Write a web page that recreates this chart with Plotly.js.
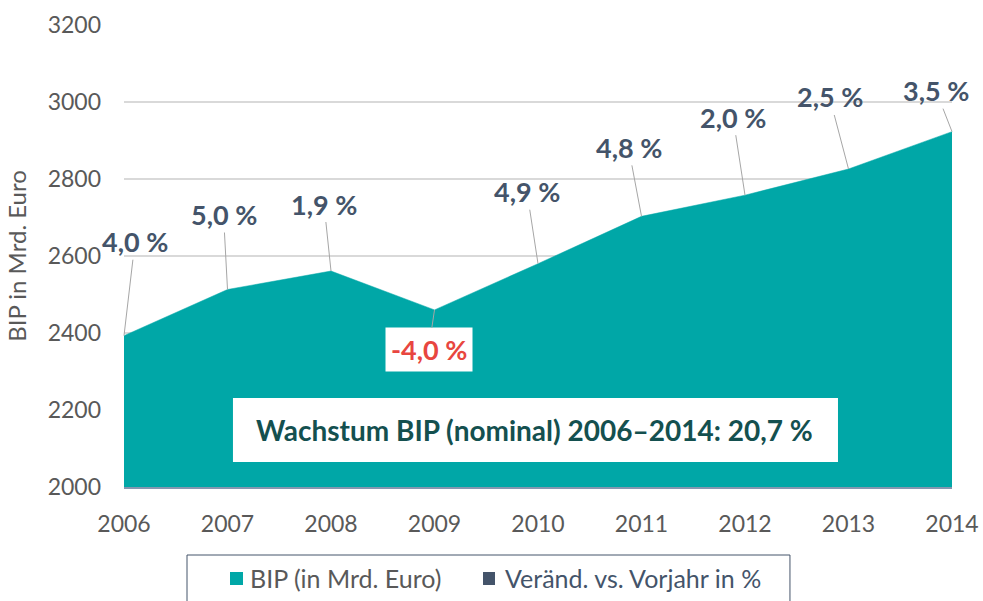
<!DOCTYPE html>
<html>
<head>
<meta charset="utf-8">
<script src="https://cdn.plot.ly/plotly-3.0.1.min.js"></script>
<style>html,body{margin:0;padding:0;background:#fff;}#chart{width:983px;height:601px;}</style>
</head>
<body>
<div id="chart"></div>
<script>
// ---- data ----
var years = [2006, 2007, 2008, 2009, 2010, 2011, 2012, 2013, 2014];
var bip = [2393, 2513, 2561, 2460, 2580, 2703, 2758, 2826, 2923];
var changePct = [4.0, 5.0, 1.9, -4.0, 4.9, 4.8, 2.0, 2.5, 3.5];
var yTicks = [2000, 2200, 2400, 2600, 2800, 3000, 3200];
var seriesNames = ['BIP (in Mrd. Euro)', 'Veränd. vs. Vorjahr in %'];
var totalGrowthText = 'Wachstum BIP (nominal) 2006–2014: 20,7 %';

// ---- styling / layout helpers ----
var FONT = 'Lato, "Open Sans", sans-serif';
var TEAL = '#00a7a7';
var SLATE = '#44546a';
var RED = '#e8463f';
var GREY = '#595959';
// label offsets in px (layout, not data)
var labelOffsets = [[11,-94],[-4,-75],[-7,-67],[-6,40],[-11,-72],[-13,-69],[-12,-78],[-19,-72],[-16,-41]];

function fmtPct(v){ return v.toFixed(1).replace('.', ',') + ' %'; }

var traces = [{
  type: 'scatter',
  x: years,
  y: bip,
  mode: 'lines',
  line: {color: TEAL, width: 0.5},
  fill: 'tozeroy',
  fillcolor: TEAL,
  name: seriesNames[0],
  showlegend: false,
  hoverinfo: 'x+y'
}];

var annotations = years.map(function(yr, i){
  var neg = changePct[i] < 0;
  var a = {
    x: yr, y: bip[i], xref: 'x', yref: 'y',
    text: '<b>' + fmtPct(changePct[i]) + '</b>',
    showarrow: true, arrowhead: 0, arrowwidth: 1, arrowcolor: '#a6a6a6',
    ax: labelOffsets[i][0], ay: labelOffsets[i][1],
    standoff: 0, startstandoff: 0,
    font: {family: FONT, size: 27, color: neg ? RED : SLATE}
  };
  if (neg) { a.bgcolor = '#ffffff'; a.borderpad = 5; }
  return a;
});

// total growth text
annotations.push({
  xref: 'paper', yref: 'paper', x: 0.4952, y: 0.1234,
  xanchor: 'center', yanchor: 'middle', showarrow: false,
  text: '<b>' + totalGrowthText + '</b>',
  font: {family: FONT, size: 28, color: '#14504f'}
});
// legend texts
annotations.push({
  xref: 'paper', yref: 'paper', x: 0.1498, y: -0.197, xanchor: 'left', yanchor: 'middle',
  showarrow: false, text: seriesNames[0], font: {family: FONT, size: 25, color: GREY}
});
annotations.push({
  xref: 'paper', yref: 'paper', x: 0.4577, y: -0.197, xanchor: 'left', yanchor: 'middle',
  showarrow: false, text: seriesNames[1], font: {family: FONT, size: 25, color: SLATE}
});

var shapes = [
  // white box for total growth
  {type: 'rect', xref: 'paper', yref: 'paper', x0: 0.1316, x1: 0.8623, y0: 0.0541, y1: 0.1926,
   fillcolor: '#ffffff', line: {width: 0}, layer: 'above'},
  // legend frame
  {type: 'rect', xref: 'paper', yref: 'paper', x0: 0.0761, x1: 0.8043, y0: -0.1472, y1: -0.30,
   fillcolor: 'rgba(0,0,0,0)', line: {width: 1, color: SLATE}},
  // legend swatches
  {type: 'rect', xref: 'paper', yref: 'paper', x0: 0.128, x1: 0.1437, y0: -0.184, y1: -0.2121,
   fillcolor: TEAL, line: {width: 0}},
  {type: 'rect', xref: 'paper', yref: 'paper', x0: 0.4336, x1: 0.4481, y0: -0.184, y1: -0.2121,
   fillcolor: SLATE, line: {width: 0}}
];

var layout = {
  width: 983, height: 601,
  margin: {l: 124, r: 31, t: 25, b: 114, pad: 0},
  paper_bgcolor: '#ffffff', plot_bgcolor: '#ffffff',
  showlegend: false,
  font: {family: FONT, color: GREY},
  xaxis: {
    range: [2006, 2014], tickvals: years, ticktext: years.map(String),
    showgrid: false, zeroline: false,
    showline: true, linecolor: '#8497b0', linewidth: 1.5,
    ticks: '', ticklabelstandoff: 16,
    tickfont: {family: FONT, size: 23, color: GREY},
    fixedrange: true
  },
  yaxis: {
    range: [2000, 3200], tickvals: yTicks,
    showgrid: true, gridcolor: '#d9d9d9', gridwidth: 1.5,
    zeroline: false, showline: false, ticks: '', ticklabelstandoff: 22,
    tickfont: {family: FONT, size: 23, color: GREY},
    title: {text: 'BIP in Mrd. Euro', font: {family: FONT, size: 24, color: GREY}, standoff: 14},
    automargin: false,
    fixedrange: true
  },
  annotations: annotations,
  shapes: shapes
};

Plotly.newPlot('chart', traces, layout, {displayModeBar: false, staticPlot: true});
</script>
</body>
</html>
